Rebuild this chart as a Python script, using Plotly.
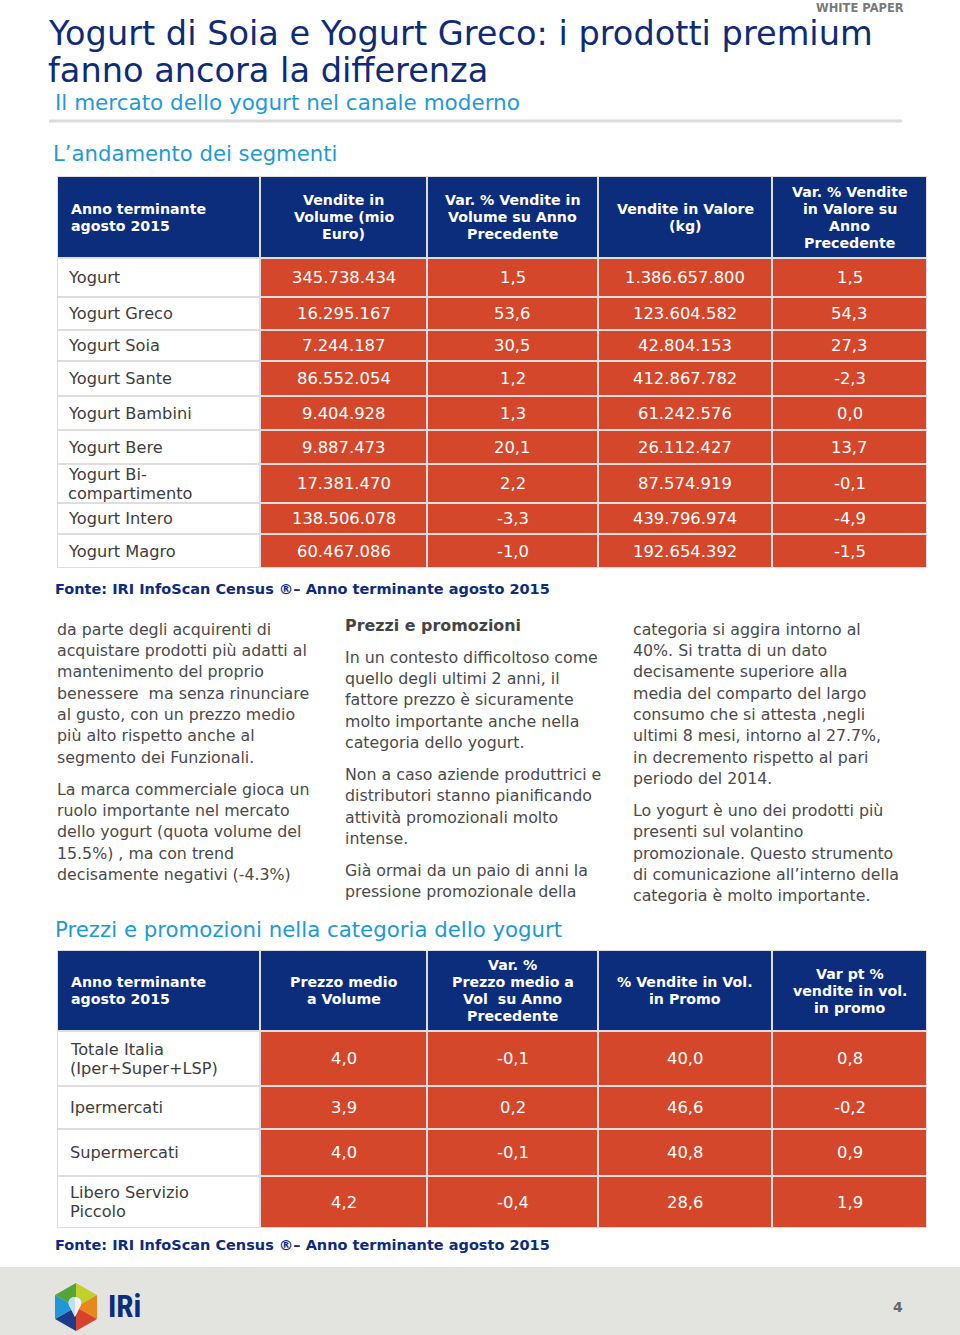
import plotly.graph_objects as go

# ---------------- DATA ----------------
title_lines = ["Yogurt di Soia e Yogurt Greco: i prodotti premium", "fanno ancora la differenza"]
subtitle = "Il mercato dello yogurt nel canale moderno"
section1 = "L’andamento dei segmenti"
section2 = "Prezzi e promozioni nella categoria dello yogurt"
source_note = "Fonte: IRI InfoScan Census ®– Anno terminante agosto 2015"
tag = "WHITE PAPER"
page_number = "4"
brand = "IRi"

t1_headers = [
    ["Anno terminante", "agosto 2015"],
    ["Vendite in", "Volume (mio", "Euro)"],
    ["Var. % Vendite in", "Volume su Anno", "Precedente"],
    ["Vendite in Valore", "(kg)"],
    ["Var. % Vendite", "in Valore su", "Anno", "Precedente"],
]
segments = [["Yogurt"], ["Yogurt Greco"], ["Yogurt Soia"], ["Yogurt Sante"], ["Yogurt Bambini"],
            ["Yogurt Bere"], ["Yogurt Bi-", "compartimento"], ["Yogurt Intero"], ["Yogurt Magro"]]
volume_sales = [345738434, 16295167, 7244187, 86552054, 9404928, 9887473, 17381470, 138506078, 60467086]
volume_var = [1.5, 53.6, 30.5, 1.2, 1.3, 20.1, 2.2, -3.3, -1.0]
value_sales = [1386657800, 123604582, 42804153, 412867782, 61242576, 26112427, 87574919, 439796974, 192654392]
value_var = [1.5, 54.3, 27.3, -2.3, 0.0, 13.7, -0.1, -4.9, -1.5]

t2_headers = [
    ["Anno terminante", "agosto 2015"],
    ["Prezzo medio", "a Volume"],
    ["Var. %", "Prezzo medio a", "Vol  su Anno", "Precedente"],
    ["% Vendite in Vol.", "in Promo"],
    ["Var pt %", "vendite in vol.", "in promo"],
]
channels = [["Totale Italia", "(Iper+Super+LSP)"], ["Ipermercati"], ["Supermercati"], ["Libero Servizio", "Piccolo"]]
avg_price = [4.0, 3.9, 4.0, 4.2]
avg_price_var = [-0.1, 0.2, -0.1, -0.4]
promo_share = [40.0, 46.6, 40.8, 28.6]
promo_share_var = [0.8, -0.2, 0.9, 1.9]

col1_paragraphs = [
    ["da parte degli acquirenti di", "acquistare prodotti più adatti al", "mantenimento del proprio",
     "benessere  ma senza rinunciare", "al gusto, con un prezzo medio", "più alto rispetto anche al",
     "segmento dei Funzionali."],
    ["La marca commerciale gioca un", "ruolo importante nel mercato", "dello yogurt (quota volume del",
     "15.5%) , ma con trend", "decisamente negativi (-4.3%)"],
]
col2_heading = "Prezzi e promozioni"
col2_paragraphs = [
    ["In un contesto difficoltoso come", "quello degli ultimi 2 anni, il", "fattore prezzo è sicuramente",
     "molto importante anche nella", "categoria dello yogurt."],
    ["Non a caso aziende produttrici e", "distributori stanno pianificando", "attività promozionali molto",
     "intense."],
    ["Già ormai da un paio di anni la", "pressione promozionale della"],
]
col3_paragraphs = [
    ["categoria si aggira intorno al", "40%. Si tratta di un dato", "decisamente superiore alla",
     "media del comparto del largo", "consumo che si attesta ,negli", "ultimi 8 mesi, intorno al 27.7%,",
     "in decremento rispetto al pari", "periodo del 2014."],
    ["Lo yogurt è uno dei prodotti più", "presenti sul volantino", "promozionale. Questo strumento",
     "di comunicazione all’interno della", "categoria è molto importante."],
]

# ---------------- STYLE / LAYOUT ----------------
W, H = 960, 1335
FONT = "DejaVu Sans"
NAVY = "#0c2c7c"
RED = "#d4472b"
LIGHT_BLUE = "#1f9ad6"
TITLE_NAVY = "#0e2c76"
TEXT_GREY = "#4a4a4a"
GRID = "#dedede"
PAD = 2.5  # annotation inner padding compensation

col_edges = [57, 260, 427, 598, 772, 927]
t1_header_span = (176, 258)
t1_row_edges = [258, 297, 330, 361, 396, 430, 464, 503, 534, 568]
t2_header_span = (950, 1031)
t2_row_edges = [1031, 1086, 1129, 1176, 1228]

shapes = []
annotations = []


def fmt_int(v):
    return f"{v:,}".replace(",", ".")


def fmt_dec(v):
    return f"{v:.1f}".replace(".", ",")


def rect(x0, y0, x1, y1, color, line=None, lw=0):
    shapes.append(dict(type="rect", xref="x", yref="y", x0=x0, x1=x1, y0=y0, y1=y1,
                       fillcolor=color, line=dict(width=lw, color=line or color), layer="below"))


def text(x, y, s, size, color, anchor="left", bold=False, family=FONT, yanchor="middle", pad=1):
    if anchor == "left":
        x -= PAD
    elif anchor == "right":
        x += PAD
    annotations.append(dict(x=x, y=y, xref="x", yref="y", text=(f"<b>{s}</b>" if bold else s),
                            showarrow=False, xanchor=anchor, yanchor=yanchor, borderpad=pad,
                            font=dict(family=family, size=size, color=color)))


def lines_block(x, yc, lines, step, size, color, anchor="left", bold=False):
    n = len(lines)
    for i, ln in enumerate(lines):
        text(x, yc + (i - (n - 1) / 2) * step, ln, size, color, anchor, bold)


def draw_table(headers, header_span, row_edges, labels, columns, label_x):
    top = header_span[0]
    bottom = row_edges[-1]
    rect(col_edges[0], top, col_edges[-1], bottom, GRID)
    hy0, hy1 = header_span
    for c in range(5):
        rect(col_edges[c] + 1, hy0 + 1, col_edges[c + 1] - 1, hy1 - 1, NAVY)
        yc = (hy0 + hy1) / 2
        if c == 0:
            lines_block(col_edges[0] + 14, yc, headers[c], 17, 14.2, "white", "left", True)
        else:
            lines_block((col_edges[c] + col_edges[c + 1]) / 2, yc, headers[c], 17, 14.2, "white", "center", True)
    for r in range(len(labels)):
        y0, y1 = row_edges[r], row_edges[r + 1]
        yc = (y0 + y1) / 2
        rect(col_edges[0] + 1, y0 + 1, col_edges[1] - 1, y1 - 1, "white")
        lines_block(label_x, yc, labels[r], 19, 16.2, "#3d3d3d")
        for c in range(4):
            rect(col_edges[c + 1] + 1, y0 + 1, col_edges[c + 2] - 1, y1 - 1, RED)
            text((col_edges[c + 1] + col_edges[c + 2]) / 2, yc, columns[c][r], 16.4, "white", "center")


def paragraphs(x, y_start, paras, step=21.35, gap=32):
    y = y_start
    for p in paras:
        for i, ln in enumerate(p):
            text(x, y, ln, 15.8, TEXT_GREY)
            if i < len(p) - 1:
                y += step
        y += gap


# header area
text(902, 0.2, tag, 11.5, "#7a7a7a", "right", True, yanchor="top", pad=0)
text(49, 33.5, title_lines[0], 33.6, TITLE_NAVY, pad=0)
text(49, 70.5, title_lines[1], 33.6, TITLE_NAVY, pad=0)
text(55, 102, subtitle, 21.5, LIGHT_BLUE)
shapes.append(dict(type="line", xref="x", yref="y", x0=49, x1=902, y0=121, y1=121,
                   line=dict(color="#dcdcdc", width=3)))
text(53, 153, section1, 21.2, LIGHT_BLUE)

# table 1
draw_table(t1_headers, t1_header_span, t1_row_edges, segments,
           [[fmt_int(v) for v in volume_sales], [fmt_dec(v) for v in volume_var],
            [fmt_int(v) for v in value_sales], [fmt_dec(v) for v in value_var]], 68)
text(55, 589, source_note, 14.5, NAVY, "left", True)

# body text columns
paragraphs(57, 629, col1_paragraphs)
text(345, 625, col2_heading, 15.9, "#444444", "left", True)
paragraphs(345, 657, col2_paragraphs)
paragraphs(633, 629, col3_paragraphs)

# table 2
text(55, 929, section2, 21.3, LIGHT_BLUE)
draw_table(t2_headers, t2_header_span, t2_row_edges, channels,
           [[fmt_dec(v) for v in avg_price], [fmt_dec(v) for v in avg_price_var],
            [fmt_dec(v) for v in promo_share], [fmt_dec(v) for v in promo_share_var]], 70)
text(55, 1245, source_note, 14.5, NAVY, "left", True)

# footer band
rect(0, 1267, 960, 1335, "#e3e3df")

# logo (hexagon facets)
cx, cy = 76, 1307
hexv = [(76, 1283), (97, 1295), (97, 1319), (76, 1331), (55, 1319), (55, 1295)]
facet_colors = ["#c2d02b", "#e8881c", "#d7432b", "#1b3b8c", "#1f98d5", "#55a33b"]
for i in range(6):
    a = hexv[i]
    b = hexv[(i + 1) % 6]
    shapes.append(dict(type="path", xref="x", yref="y",
                       path=f"M{cx},{cy} L{a[0]},{a[1]} L{b[0]},{b[1]} Z",
                       fillcolor=facet_colors[i], line=dict(width=0)))
shapes.append(dict(type="path", xref="x", yref="y",
                   path="M75,1297 C81,1297 83,1303 80,1307 L75,1317 L70,1307 C67,1303 69,1297 75,1297 Z",
                   fillcolor="#f4f4f0", line=dict(width=0)))
shapes.append(dict(type="path", xref="x", yref="y",
                   path="M75,1297 C69,1297 67,1303 70,1307 L75,1317 Z",
                   fillcolor="#bfe0f2", line=dict(width=0)))
text(108, 1306, brand, 31, NAVY, "left", True, "Roboto Condensed, Roboto, DejaVu Sans")
text(898, 1307, page_number, 14, "#666666", "center", True)

fig = go.Figure()
fig.update_layout(
    width=W, height=H, margin=dict(l=0, r=0, t=0, b=0),
    paper_bgcolor="white", plot_bgcolor="white",
    xaxis=dict(range=[0, W], visible=False, fixedrange=True),
    yaxis=dict(range=[H, 0], visible=False, fixedrange=True),
    shapes=shapes, annotations=annotations, showlegend=False,
)
fig.write_html("out.html", config={"displayModeBar": False},
               post_script="document.body.style.margin='0';document.body.style.overflow='hidden';")
